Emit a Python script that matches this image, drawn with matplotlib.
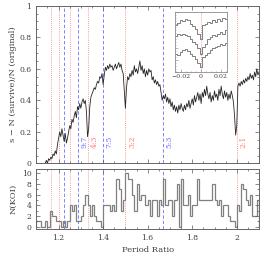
import matplotlib
matplotlib.use("Agg")
import matplotlib.pyplot as plt
import numpy as np
from matplotlib.ticker import MultipleLocator

plt.rcParams['font.family'] = ['DejaVu Serif']

# top panel: fraction lost vs period ratio
ratio_x = np.round(np.arange(1.10, 2.1001, 0.005), 3)
frac_lost = [
    0, 0, 0, 0, 0, 0, 0, 0, 0,
    0.02, 0.0, 0.03, 0.02, 0.04, 0.03, 0.06, 0.05, 0.08, 0.06, 0.12,
    0.16, 0.20, 0.17, 0.22, 0.18, 0.14, 0.19, 0.13, 0.16, 0.20,
    0.24, 0.22, 0.28, 0.26, 0.30, 0.33, 0.29, 0.36, 0.34, 0.38,
    0.35, 0.39, 0.41, 0.38, 0.40, 0.33, 0.17, 0.22, 0.36, 0.42,
    0.44, 0.46, 0.48, 0.47, 0.50, 0.52, 0.51, 0.55, 0.54, 0.57,
    0.50, 0.56, 0.61, 0.59, 0.62, 0.60, 0.63, 0.61, 0.62, 0.59,
    0.61, 0.63, 0.60, 0.62, 0.64, 0.61, 0.63, 0.59, 0.57, 0.46,
    0.35, 0.48, 0.55, 0.53, 0.57, 0.55, 0.59, 0.56, 0.62, 0.58,
    0.60, 0.57, 0.61, 0.65, 0.59, 0.62, 0.57, 0.60, 0.55, 0.59,
    0.56, 0.60, 0.58, 0.59, 0.53, 0.55, 0.51, 0.53, 0.50, 0.52,
    0.49, 0.50, 0.45, 0.40, 0.43, 0.41, 0.44, 0.39, 0.42, 0.38,
    0.41, 0.36, 0.39, 0.34, 0.37, 0.33, 0.36, 0.32, 0.37, 0.34,
    0.38, 0.35, 0.33, 0.37, 0.34, 0.38, 0.36, 0.40, 0.35, 0.38,
    0.41, 0.37, 0.43, 0.39, 0.42, 0.45, 0.40, 0.44, 0.38, 0.45,
    0.42, 0.47, 0.43, 0.49, 0.44, 0.41, 0.45, 0.39, 0.43, 0.40,
    0.46, 0.42, 0.44, 0.40, 0.47, 0.43, 0.49, 0.44, 0.41, 0.46,
    0.42, 0.45, 0.40, 0.44, 0.41, 0.46, 0.43, 0.39, 0.30, 0.18,
    0.24, 0.49, 0.51, 0.49, 0.52, 0.50, 0.53, 0.51, 0.54, 0.52,
    0.55, 0.53, 0.57, 0.54, 0.56, 0.53, 0.58, 0.55, 0.60, 0.56,
    0.58,
]

# bottom panel: N(KOI) per 0.01 bin
bin_edges = np.round(np.arange(1.10, 2.1001, 0.01), 2)
n_koi = [
    1, 1, 0, 0, 1, 0, 3, 2, 2, 1,
    1, 0, 1, 0, 1, 4, 3, 4, 1, 1,
    2, 4, 6, 4, 2, 4, 2, 1, 1, 0,
    4, 4, 4, 3, 4, 3, 9, 7, 3, 5,
    10, 9, 9, 6, 3, 8, 5, 6, 6, 4,
    5, 2, 5, 5, 2, 5, 4, 9, 4, 5,
    5, 2, 5, 8, 0, 9, 4, 4, 6, 2,
    4, 4, 9, 5, 5, 5, 5, 5, 5, 8,
    5, 4, 5, 2, 4, 4, 2, 1, 1, 0,
    4, 3, 8, 7, 5, 4, 6, 2, 2, 5,
]

# resonances
res_first = [7/6, 6/5, 5/4, 4/3, 3/2, 2/1]
res_first_lab = ['7:6', '6:5', '5:4', '4:3', '3:2', '2:1']
res_second = [11/9, 9/7, 7/5, 5/3]
res_second_lab = ['11:9', '9:7', '7:5', '5:3']
labelled = ['9:7', '4:3', '7:5', '3:2', '5:3', '2:1']

# inset: stacked profiles around resonance
inset_dx = np.round(np.arange(-0.025, 0.0251, 0.0025), 4)
prof_a = [0.78, 0.82, 0.86, 0.85, 0.88, 0.87, 0.80, 0.76, 0.72, 0.63,
          0.55, 0.78, 0.80, 0.83, 0.82, 0.86, 0.84, 0.88, 0.85, 0.90, 0.88]
prof_b = [0.60, 0.63, 0.61, 0.64, 0.62, 0.60, 0.55, 0.50, 0.46, 0.40,
          0.30, 0.42, 0.47, 0.55, 0.58, 0.62, 0.60, 0.63, 0.66, 0.64, 0.70]
prof_c = [0.30, 0.28, 0.33, 0.36, 0.38, 0.35, 0.30, 0.27, 0.22, 0.15,
          0.08, 0.25, 0.28, 0.31, 0.36, 0.40, 0.42, 0.44, 0.46, 0.45, 0.48]

red = '#ff7a7a'
blue = '#6e6eff'
txt = '0.25'

fig = plt.figure(figsize=(2.69, 2.61), dpi=100)
ax1 = fig.add_axes([0.135, 0.3736, 0.828, 0.6046])
ax2 = fig.add_axes([0.135, 0.1238, 0.828, 0.2287])

for ax in (ax1, ax2):
    for r in res_first:
        ax.axvline(r, color=red, ls=(0, (1, 1.5)), lw=0.6, zorder=1)
    for r in res_second:
        ax.axvline(r, color=blue, ls=(0, (4, 2.5)), lw=0.6, zorder=1)
    ax.set_xlim(1.1, 2.1)
    ax.xaxis.set_major_locator(MultipleLocator(0.2))
    ax.xaxis.set_minor_locator(MultipleLocator(0.05))
    ax.tick_params(which='both', direction='in', top=True, right=True,
                   colors='0.35', labelcolor=txt, labelsize=5.5, width=0.5)
    ax.tick_params(which='major', length=3)
    ax.tick_params(which='minor', length=1.5)
    for s in ax.spines.values():
        s.set_color('0.4')
        s.set_linewidth(0.7)

ax1.plot(ratio_x, frac_lost, color='0.15', lw=0.6, zorder=3)
ax1.set_ylim(0, 1)
ax1.yaxis.set_major_locator(MultipleLocator(0.2))
ax1.yaxis.set_minor_locator(MultipleLocator(0.05))
ax1.set_yticks([0, 0.2, 0.4, 0.6, 0.8, 1])
ax1.set_yticklabels(['0', '0.2', '0.4', '0.6', '0.8', '1'])
ax1.tick_params(labelbottom=False)
ax1.set_ylabel('s \u2212 N (survive)/N (original)', fontsize=6, color=txt, labelpad=2)

for r, lab in zip(res_first + res_second, res_first_lab + res_second_lab):
    if lab in labelled:
        c = red if lab in res_first_lab else blue
        ax1.text(r + 0.012, 0.1, lab, rotation=90, ha='left', va='bottom',
                 fontsize=5.5, color=c)

ax2.stairs(n_koi, bin_edges, color='0.5', lw=0.9)
ax2.set_ylim(-0.4, 10.8)
ax2.yaxis.set_major_locator(MultipleLocator(2))
ax2.yaxis.set_minor_locator(MultipleLocator(1))
ax2.set_xticks([1.2, 1.4, 1.6, 1.8, 2.0])
ax2.set_xticklabels(['1.2', '1.4', '1.6', '1.8', '2'])
ax2.set_ylabel('N(KOI)', fontsize=6, color=txt, labelpad=3)
ax2.set_xlabel('Period Ratio', fontsize=6, color=txt, labelpad=3)

axi = fig.add_axes([0.651, 0.724, 0.192, 0.23])
axi.axvline(0, color=red, ls=(0, (1, 1.5)), lw=0.6)
for p in (prof_a, prof_b, prof_c):
    axi.step(inset_dx, p, where='mid', color='0.5', lw=0.7)
axi.set_xlim(-0.026, 0.026)
axi.set_ylim(0, 1)
axi.set_xticks([-0.02, 0, 0.02])
axi.set_xticklabels(['\u22120.02', '0', '0.02'])
axi.yaxis.set_minor_locator(MultipleLocator(0.05))
axi.set_yticks([0, 0.2, 0.4, 0.6, 0.8, 1])
axi.tick_params(which='both', direction='in', labelleft=False, colors='0.5',
                labelcolor=txt, labelsize=4.5, width=0.4, pad=1.5)
axi.tick_params(which='major', length=2)
axi.tick_params(which='minor', length=1)
axi.xaxis.set_minor_locator(MultipleLocator(0.005))
for s in axi.spines.values():
    s.set_color('0.55')
    s.set_linewidth(0.6)

fig.savefig('out.png', dpi=100)
